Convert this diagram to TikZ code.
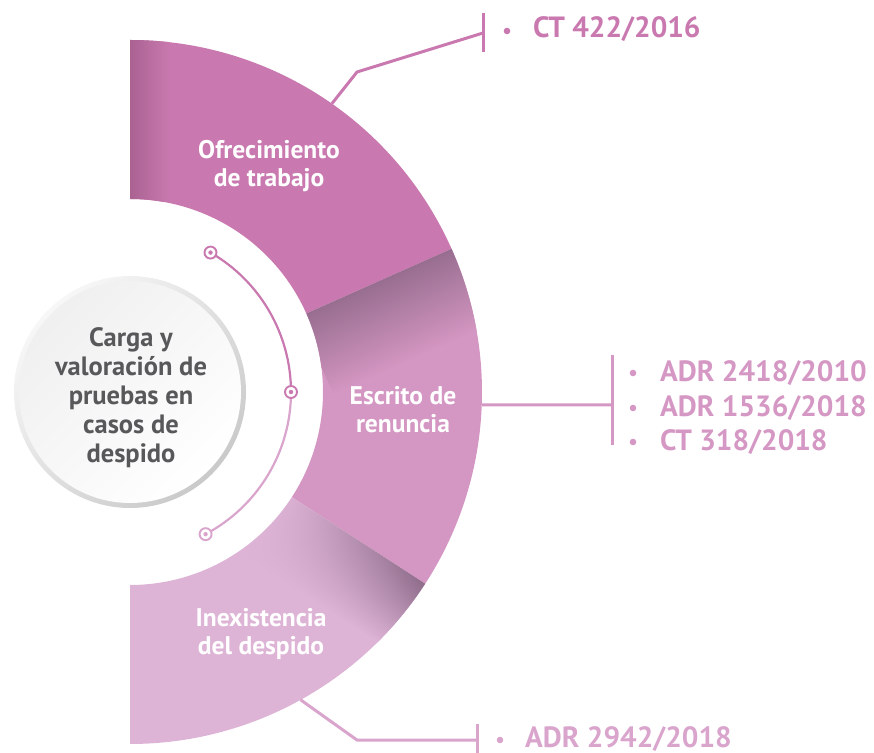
\documentclass[tikz,border=0pt]{standalone}
\usepackage{fontspec}
\setmainfont{PT Sans}
\usetikzlibrary{fadings}
\definecolor{segA}{RGB}{201,121,175}
\definecolor{segB}{RGB}{212,150,194}
\definecolor{segC}{RGB}{222,180,214}
\definecolor{shadowA}{RGB}{170,98,146}
\definecolor{shadowB}{RGB}{152,110,144}
\definecolor{shadowC}{RGB}{138,104,134}
\definecolor{lineB}{RGB}{213,152,196}
\definecolor{lineC}{RGB}{218,165,205}
\definecolor{grisTxt}{RGB}{88,88,90}

\begin{document}
\begin{tikzpicture}[x=1pt, y=1pt,
        conn/.style={line width=3pt},
        seglabel/.style={text=white, align=center, font=\fontsize{25.5}{28}\selectfont\bfseries},
        ref/.style={anchor=base west, inner sep=0pt, font=\fontsize{29.3}{34}\selectfont\bfseries},
        dotring/.style={line width=1.9pt, fill=white}]
        \useasboundingbox (-130,-360) rectangle (744,392);

        \fill[segA] (90:193) -- (90:352) arc (90:24:352) -- (24:193) arc (24:90:193) -- cycle;
        \fill[segB] (24:193) -- (24:352) arc (24:-33:352) -- (-33:193) arc (-33:24:193) -- cycle;
        \fill[segC] (-33:193) -- (-33:352) arc (-33:-90:352) -- (-90:193) arc (-90:-33:193) -- cycle;

        % shadows
        \begin{scope}
            \clip (90:193) -- (90:352) arc (90:24:352) -- (24:193) arc (24:90:193) -- cycle;
            \shade[left color=shadowA, right color=segA] (0,190) rectangle (40,355);
        \end{scope}
        \begin{scope}
            \clip (24:193) -- (24:352) arc (24:-33:352) -- (-33:193) arc (-33:24:193) -- cycle;
            \begin{scope}[transform canvas={rotate=24}]
                \shade[top color=shadowB, bottom color=segB] (185,-85) rectangle (360,0);
            \end{scope}
        \end{scope}
        \begin{scope}
            \clip (-33:193) -- (-33:352) arc (-33:-90:352) -- (-90:193) arc (-90:-33:193) -- cycle;
            \begin{scope}[transform canvas={rotate=-33}]
                \shade[top color=shadowC, bottom color=segC, path fading=west] (185,-75) rectangle (360,0);
            \end{scope}
        \end{scope}

        \node[seglabel] (ofrec) at (139,226) {Ofrecimiento\\de trabajo};
        \node[seglabel] (escrito) at (273,-18) {Escrito de\\renuncia};
        \node[seglabel] (inex) at (131,-242) {Inexistencia\\del despido};

        \shade[top color=gray!6, bottom color=gray!42, shading angle=45] (0,0) circle (116);
        \shade[top color=gray!12, bottom color=white, shading angle=45] (0,0) circle (111);
        \node[text=grisTxt, align=center, font=\fontsize{26.5}{29}\selectfont\bfseries] (carga) at (1,-6)
            {Carga y\\valoración de\\pruebas en\\casos de\\despido};

        \draw[segA, line width=2.2pt] (60:161) arc (60:0:161);
        \draw[lineC, line width=2.2pt] (0:161) arc (0:-62:161);
        \draw[segA, dotring] (60:161) circle (6);
        \fill[segA] (60:161) circle (2.2);
        \draw[segA, dotring] (0:161) circle (6);
        \fill[segA] (0:161) circle (2.2);
        \draw[lineC, dotring] (-62:161) circle (6);
        \fill[lineC] (-62:161) circle (2.2);

        \coordinate (ofrecBorde) at (55:352);
        \coordinate (ofrecCodo) at (227,320);
        \coordinate (ofrecBarra) at (353,359);
        \coordinate (escritoBorde) at (-2.1:352);
        \coordinate (escritoBarra) at (482,-13);
        \coordinate (inexBorde) at (-61:352);
        \coordinate (inexCodo) at (227,-348);
        \coordinate (inexBarra) at (347,-348);

        \draw[segA, conn] (ofrecBorde) -- (ofrecCodo) -- (ofrecBarra);
        \draw[segA, conn] ([yshift=20]ofrecBarra) -- ([yshift=-19]ofrecBarra);
        \draw[lineB, conn] (escritoBorde) -- (escritoBarra);
        \draw[lineB, conn] ([yshift=50]escritoBarra) -- ([yshift=-40]escritoBarra);
        \draw[lineC, conn] (inexBorde) -- (inexCodo) -- (inexBarra);
        \draw[lineC, conn] ([yshift=16]inexBarra) -- ([yshift=-24]inexBarra);

        \node[ref, text=segA] (ct422) at (403,354) {CT 422/2016};
        \node[ref, text=lineB] (adr2418) at (530,11) {ADR 2418/2010};
        \node[ref, text=lineB] (adr1536) at (530,-24) {ADR 1536/2018};
        \node[ref, text=lineB] (ct318) at (530,-58) {CT 318/2018};
        \node[ref, text=lineC] (adr2942) at (395,-355) {ADR 2942/2018};

        \fill[segA] ([xshift=-26, yshift=7]ct422.base west) circle (3.3);
        \foreach \n in {adr2418, adr1536, ct318}
            \fill[lineB] ([xshift=-27, yshift=8]\n.base west) circle (3.3);
        \fill[lineC] ([xshift=-25, yshift=7]adr2942.base west) circle (3.3);
    \end{tikzpicture}
\end{document}
